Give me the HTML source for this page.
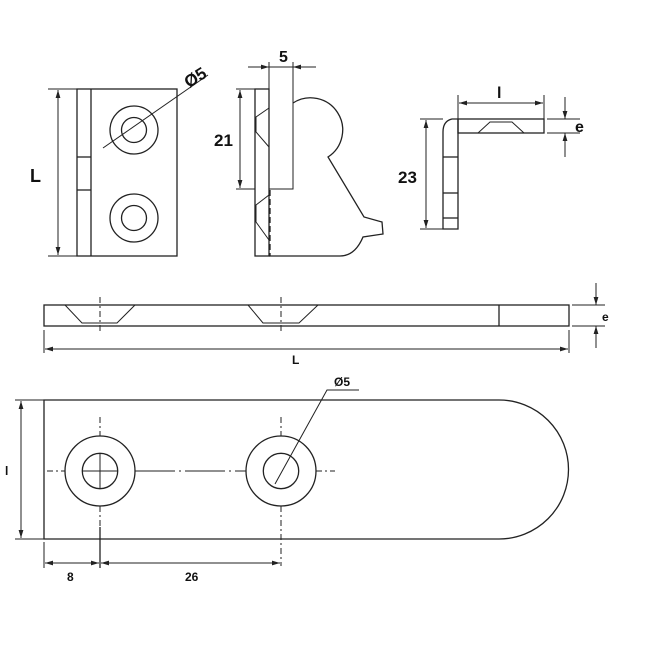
<!DOCTYPE html>
<html><head><meta charset="utf-8"><style>
html,body{margin:0;padding:0;background:#fff;}
svg{display:block}
text{font-family:"Liberation Sans",Arial,sans-serif;font-weight:bold;fill:#111}
</style></head><body>
<svg width="650" height="650" viewBox="0 0 650 650" xmlns="http://www.w3.org/2000/svg">
<defs>
<marker id="a" viewBox="0 0 10 6" refX="10" refY="3" markerWidth="8" markerHeight="5" orient="auto-start-reverse" markerUnits="userSpaceOnUse"><path d="M0,0 L10,3 L0,6z" fill="#222"/></marker>
</defs>
<g fill="none" stroke="#222" stroke-width="1.3">
<!-- view 1 -->
<rect x="77" y="89" width="100" height="167"/>
<line x1="91" y1="89" x2="91" y2="256"/>
<line x1="77" y1="157" x2="91" y2="157"/>
<line x1="77" y1="190" x2="91" y2="190"/>
<circle cx="134" cy="130" r="24"/><circle cx="134" cy="130" r="12.5"/>
<circle cx="134" cy="218" r="24"/><circle cx="134" cy="218" r="12.5"/>
<line x1="103" y1="148" x2="208" y2="75" stroke-width="1"/>
<line x1="48" y1="89" x2="77" y2="89" stroke-width="1"/>
<line x1="48" y1="256" x2="77" y2="256" stroke-width="1"/>
<line x1="58" y1="90" x2="58" y2="255" stroke-width="1" marker-start="url(#a)" marker-end="url(#a)"/>
<!-- view 2 -->
<rect x="255" y="89" width="14" height="167"/>
<polyline points="269,62 269,189 293,189 293,62" stroke-width="1"/>
<path d="M293,103 A31,31 0 1 1 328,157 L364,217 L382,222 L383,234 L363,237 Q355,256 340,256 L269,256"/>
<line x1="270" y1="190" x2="270" y2="256" stroke-dasharray="6,3"/>
<polyline points="269,108 256,117 256,132 269,147" stroke-width="1"/>
<polyline points="269,195 256,205 256,222 269,240" stroke-width="1"/>
<line x1="236" y1="89" x2="255" y2="89" stroke-width="1"/>
<line x1="236" y1="189" x2="255" y2="189" stroke-width="1"/>
<line x1="240" y1="90" x2="240" y2="188" stroke-width="1" marker-start="url(#a)" marker-end="url(#a)"/>
<line x1="248" y1="67" x2="269" y2="67" stroke-width="1" marker-end="url(#a)"/>
<line x1="316" y1="67" x2="293" y2="67" stroke-width="1" marker-end="url(#a)"/>
<line x1="269" y1="67" x2="293" y2="67" stroke-width="1"/>
<!-- view 3 -->
<rect x="458" y="119" width="86" height="14"/>
<path d="M458,119 L452,119 Q443,121 443,132 L443,229 L458,229 L458,119"/>
<line x1="443" y1="157" x2="458" y2="157"/><line x1="443" y1="193" x2="458" y2="193"/><line x1="443" y1="218" x2="458" y2="218"/>
<polyline points="478,133 490,122 512,122 524,133" stroke-width="1"/>
<line x1="458" y1="95" x2="458" y2="119" stroke-width="1"/><line x1="544" y1="95" x2="544" y2="119" stroke-width="1"/>
<line x1="459" y1="103" x2="543" y2="103" stroke-width="1" marker-start="url(#a)" marker-end="url(#a)"/>
<line x1="547" y1="119" x2="580" y2="119" stroke-width="1"/><line x1="547" y1="133" x2="580" y2="133" stroke-width="1"/>
<line x1="565" y1="97" x2="565" y2="119" stroke-width="1" marker-end="url(#a)"/>
<line x1="565" y1="157" x2="565" y2="133" stroke-width="1" marker-end="url(#a)"/>
<line x1="420" y1="119" x2="443" y2="119" stroke-width="1"/><line x1="420" y1="229" x2="443" y2="229" stroke-width="1"/>
<line x1="426" y1="120" x2="426" y2="228" stroke-width="1" marker-start="url(#a)" marker-end="url(#a)"/>
<!-- side bar -->
<rect x="44" y="305" width="525" height="21"/>
<line x1="499" y1="305" x2="499" y2="326"/>
<polyline points="65,305 82,323 117,323 135,305" stroke-width="1"/>
<polyline points="248,305 263,323 299,323 318,305" stroke-width="1"/>
<line x1="100" y1="297" x2="100" y2="334" stroke-width="1" stroke-dasharray="6,3,2,3"/>
<line x1="281" y1="297" x2="281" y2="334" stroke-width="1" stroke-dasharray="6,3,2,3"/>
<line x1="572" y1="305" x2="605" y2="305" stroke-width="1"/><line x1="572" y1="326" x2="605" y2="326" stroke-width="1"/>
<line x1="596" y1="283" x2="596" y2="305" stroke-width="1" marker-end="url(#a)"/>
<line x1="596" y1="348" x2="596" y2="326" stroke-width="1" marker-end="url(#a)"/>
<line x1="44" y1="330" x2="44" y2="353" stroke-width="1"/><line x1="569" y1="330" x2="569" y2="353" stroke-width="1"/>
<line x1="45" y1="349" x2="568" y2="349" stroke-width="1" marker-start="url(#a)" marker-end="url(#a)"/>
<!-- plan -->
<path d="M44,400 L499,400 A69.5,69.5 0 0 1 499,539 L44,539 Z"/>
<circle cx="100" cy="471" r="35"/><circle cx="100" cy="471" r="17.7"/>
<circle cx="281" cy="471" r="35"/><circle cx="281" cy="471" r="17.7"/>
<line x1="82" y1="471" x2="118" y2="471" stroke-width="1"/><line x1="100" y1="453" x2="100" y2="489" stroke-width="1"/>
<line x1="47" y1="471" x2="65" y2="471" stroke-width="1" stroke-dasharray="6,3,2,3"/>
<line x1="135" y1="471" x2="246" y2="471" stroke-width="1" stroke-dasharray="40,4,2,4"/>
<line x1="316" y1="471" x2="335" y2="471" stroke-width="1" stroke-dasharray="6,3,2,3"/>
<line x1="100" y1="417" x2="100" y2="436" stroke-width="1" stroke-dasharray="6,3,2,3"/>
<line x1="281" y1="417" x2="281" y2="436" stroke-width="1" stroke-dasharray="6,3,2,3"/>
<line x1="100" y1="506" x2="100" y2="526" stroke-width="1" stroke-dasharray="6,3,2,3"/>
<line x1="100" y1="527" x2="100" y2="568" stroke-width="1.3"/>
<line x1="281" y1="506" x2="281" y2="566" stroke-width="1" stroke-dasharray="6,3,2,3"/>
<polyline points="275,484 327,390 359,390" stroke-width="1"/>
<line x1="15" y1="400" x2="44" y2="400" stroke-width="1"/><line x1="15" y1="539" x2="44" y2="539" stroke-width="1"/>
<line x1="21" y1="401" x2="21" y2="538" stroke-width="1" marker-start="url(#a)" marker-end="url(#a)"/>
<line x1="44" y1="542" x2="44" y2="568" stroke-width="1"/>
<line x1="45" y1="563" x2="99" y2="563" stroke-width="1" marker-start="url(#a)" marker-end="url(#a)"/>
<line x1="101" y1="563" x2="280" y2="563" stroke-width="1" marker-start="url(#a)" marker-end="url(#a)"/>
</g>
<text x="30" y="182" font-size="18">L</text>
<text x="184" y="84" font-size="17" transform="rotate(-32 194 78)">Ø5</text>
<text x="279" y="62" font-size="16">5</text>
<text x="214" y="146" font-size="17">21</text>
<text x="497" y="98" font-size="16">l</text>
<text x="575" y="132" font-size="16">e</text>
<text x="398" y="183" font-size="17">23</text>
<text x="602" y="321" font-size="12">e</text>
<text x="292" y="364" font-size="12">L</text>
<text x="334" y="386" font-size="12">Ø5</text>
<text x="5" y="475" font-size="12">l</text>
<text x="67" y="581" font-size="12">8</text>
<text x="185" y="581" font-size="12">26</text>
</svg>
</body></html>
